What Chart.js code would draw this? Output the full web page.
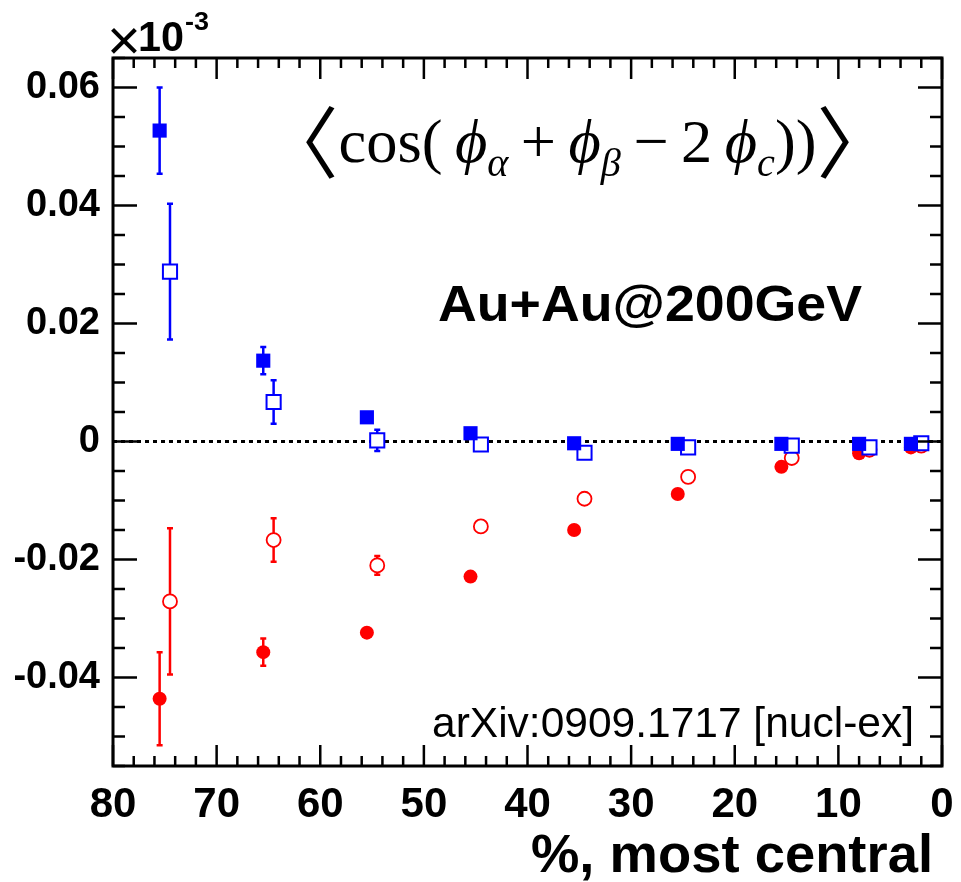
<!DOCTYPE html>
<html>
<head>
<meta charset="utf-8">
<script src="https://cdn.jsdelivr.net/npm/chart.js@4"></script>
<style>
html, body { margin: 0; padding: 0; background: #fff; }
</style>
</head>
<body>
<canvas id="chart" width="961" height="882"></canvas>
<script>
// centrality bin positions (filled markers shifted +0.5, open -0.5)
const xFilled = [75.5, 65.5, 55.5, 45.5, 35.5, 25.5, 15.5, 8, 3];
const xOpen = [74.5, 64.5, 54.5, 44.5, 34.5, 24.5, 14.5, 7, 2];

// blue squares
const blueFilled = [0.0527, 0.0137, 0.0041, 0.0014, -0.0003, -0.0004, -0.0004, -0.0004, -0.0004];
const blueFilledErr = [0.0073, 0.0023, 0.0004, 0.0003, 0.0002, 0.0001, 0.0001, 0.0001, 0.0001];
const blueOpen = [0.0288, 0.0067, 0.0002, -0.0005, -0.0019, -0.0010, -0.0007, -0.0010, -0.0003];
const blueOpenErr = [0.0115, 0.0037, 0.0018, 0.0006, 0.0004, 0.0003, 0.0002, 0.0002, 0.0001];

// red circles
const redFilled = [-0.0436, -0.0357, -0.0324, -0.0229, -0.0150, -0.0089, -0.0043, -0.0020, -0.0010];
const redFilledErr = [0.0079, 0.0023, 0.0005, 0.0004, 0.0003, 0.0002, 0.0002, 0.0001, 0.0001];
const redOpen = [-0.0271, -0.0167, -0.0210, -0.0144, -0.0097, -0.0060, -0.0028, -0.0014, -0.0007];
const redOpenErr = [0.0124, 0.0037, 0.0016, 0.0006, 0.0004, 0.0003, 0.0002, 0.0002, 0.0001];

const xTickValues = [80, 70, 60, 50, 40, 30, 20, 10, 0];
const yTickValues = [-0.04, -0.02, 0, 0.02, 0.04, 0.06];
const yTickLabels = ['-0.04', '-0.02', '0', '0.02', '0.04', '0.06'];

const SANS = "'Liberation Sans', Arial, sans-serif";
const SERIF = "'Liberation Serif', 'DejaVu Serif', serif";
const THIN = "'Noto Sans CJK JP', 'Liberation Serif', serif";

function pts(xs, ys) {
    return xs.map((x, i) => ({ x: x, y: ys[i] }));
}

function fitText(ctx, text, x, y, w, font) {
    ctx.font = font;
    const m = ctx.measureText(text).width;
    ctx.save();
    ctx.translate(x, y);
    ctx.scale(w / m, 1);
    ctx.fillText(text, 0, 0);
    ctx.restore();
}

// draws error bars under the markers
const errorBars = {
    id: 'errorBars',
    beforeDatasetsDraw(chart) {
        const ctx = chart.ctx;
        const x = chart.scales.x, y = chart.scales.y;
        chart.data.datasets.forEach(ds => {
            ctx.save();
            ctx.strokeStyle = ds.borderColor;
            ctx.lineWidth = 2.5;
            ds.data.forEach((p, i) => {
                const e = ds.errors[i];
                const px = x.getPixelForValue(p.x);
                const top = y.getPixelForValue(p.y + e);
                const bot = y.getPixelForValue(p.y - e);
                ctx.beginPath();
                ctx.moveTo(px, top);
                ctx.lineTo(px, bot);
                ctx.moveTo(px - 3, top);
                ctx.lineTo(px + 3, top);
                ctx.moveTo(px - 3, bot);
                ctx.lineTo(px + 3, bot);
                ctx.stroke();
            });
            ctx.restore();
        });
        // dotted zero line
        const y0 = y.getPixelForValue(0);
        ctx.save();
        ctx.strokeStyle = '#000';
        ctx.lineWidth = 3;
        ctx.setLineDash([4, 4]);
        ctx.beginPath();
        ctx.moveTo(chart.chartArea.left, y0);
        ctx.lineTo(chart.chartArea.right, y0);
        ctx.stroke();
        ctx.restore();
    }
};

// ROOT-style frame with inward ticks on all four sides
const frame = {
    id: 'frame',
    afterDraw(chart) {
        const ctx = chart.ctx;
        const a = chart.chartArea;
        const x = chart.scales.x, y = chart.scales.y;
        ctx.save();
        ctx.strokeStyle = '#000';
        ctx.lineWidth = 3;
        ctx.strokeRect(a.left, a.top, a.right - a.left, a.bottom - a.top);
        ctx.lineWidth = 2.5;
        ctx.beginPath();
        for (let v = 0; v <= 80; v += 2) {
            const px = x.getPixelForValue(v);
            const len = v % 10 === 0 ? 21 : 10;
            ctx.moveTo(px, a.bottom);
            ctx.lineTo(px, a.bottom - len);
            ctx.moveTo(px, a.top);
            ctx.lineTo(px, a.top + len);
        }
        for (let k = -11; k <= 13; k++) {
            const v = k * 0.005;
            const py = y.getPixelForValue(v);
            const len = k % 4 === 0 ? 24 : 12;
            ctx.moveTo(a.left, py);
            ctx.lineTo(a.left + len, py);
            ctx.moveTo(a.right, py);
            ctx.lineTo(a.right - len, py);
        }
        ctx.stroke();
        ctx.restore();

        // texts
        ctx.save();
        ctx.fillStyle = '#000';
        ctx.textAlign = 'left';
        ctx.textBaseline = 'alphabetic';
        ctx.font = '58px ' + SANS;
        ctx.fillText('\u00d7', 107, 60);
        fitText(ctx, '10', 138, 51, 46, 'bold 42px ' + SANS);
        fitText(ctx, '-3', 185, 30, 24, 'bold 26px ' + SANS);

        fitText(ctx, 'Au+Au@200GeV', 438, 321, 424, 'bold 50px ' + SANS);
        fitText(ctx, 'arXiv:0909.1717 [nucl-ex]', 432, 737, 482, '42px ' + SANS);
        fitText(ctx, '%, most central', 531, 872, 402, 'bold 54px ' + SANS);

        // formula
        const big = '62px ' + SERIF, it = 'italic 62px ' + SERIF, sub = 'italic 40px ' + SERIF;
        const brk = '78px ' + THIN;
        const sp = '\u2009';
        const runs = [
            ['\u3008', brk, 10], ['cos', big, 0], ['(', big, 0], [sp, big, 0],
            ['\u03d5', it, 0], ['\u03b1', sub, 14], [sp + '+' + sp, big, 0],
            ['\u03d5', it, 0], ['\u03b2', sub, 14], [sp + '\u2212' + sp, big, 0], ['2', big, 0], [sp, big, 0],
            ['\u03d5', it, 0], ['c', sub, 14], [')', big, 0], [')', big, 0], ['\u3009', brk, 10]
        ];
        let total = 0;
        runs.forEach(r => { ctx.font = r[1]; total += ctx.measureText(r[0]).width; });
        const sx = 635 / total;
        ctx.translate(260, 162);
        ctx.scale(sx, 1);
        let cx = 0;
        runs.forEach(r => {
            ctx.font = r[1];
            ctx.fillText(r[0], cx, r[2]);
            cx += ctx.measureText(r[0]).width;
        });
        ctx.restore();
    }
};

new Chart(document.getElementById('chart').getContext('2d'), {
    type: 'scatter',
    data: {
        datasets: [
            {
                label: 'blue filled', data: pts(xFilled, blueFilled), errors: blueFilledErr,
                pointStyle: 'rect', pointRadius: 10, borderColor: '#0000ff',
                backgroundColor: '#0000ff', pointBorderWidth: 0
            },
            {
                label: 'blue open', data: pts(xOpen, blueOpen), errors: blueOpenErr,
                pointStyle: 'rect', pointRadius: 10, borderColor: '#0000ff',
                backgroundColor: '#ffffff', pointBorderWidth: 2
            },
            {
                label: 'red filled', data: pts(xFilled, redFilled), errors: redFilledErr,
                pointStyle: 'circle', pointRadius: 7, borderColor: '#ff0000',
                backgroundColor: '#ff0000', pointBorderWidth: 0
            },
            {
                label: 'red open', data: pts(xOpen, redOpen), errors: redOpenErr,
                pointStyle: 'circle', pointRadius: 7, borderColor: '#ff0000',
                backgroundColor: '#ffffff', pointBorderWidth: 1.8
            }
        ]
    },
    options: {
        responsive: false,
        animation: false,
        layout: { padding: { left: 0, top: 58, right: 19, bottom: 0 } },
        plugins: { legend: { display: false }, tooltip: { enabled: false } },
        scales: {
            x: {
                type: 'linear', reverse: true, min: 0, max: 80,
                grid: { display: false, drawTicks: false },
                border: { display: false },
                afterBuildTicks: s => { s.ticks = xTickValues.map(v => ({ value: v })); },
                afterFit: s => { s.height = 116; s.paddingLeft = 0; s.paddingRight = 0; },
                ticks: {
                    autoSkip: false, maxRotation: 0, padding: 14, color: '#000',
                    font: { family: SANS, size: 42, weight: 'bold' },
                    callback: v => String(v)
                }
            },
            y: {
                type: 'linear', min: -0.055, max: 0.065,
                grid: { display: false, drawTicks: false },
                border: { display: false },
                afterBuildTicks: s => { s.ticks = yTickValues.map(v => ({ value: v })); },
                afterFit: s => { s.width = 113; s.paddingTop = 0; s.paddingBottom = 0; },
                ticks: {
                    autoSkip: false, padding: 13, color: '#000',
                    font: { family: SANS, size: 38, weight: 'bold' },
                    callback: (v, i) => yTickLabels[i]
                }
            }
        }
    },
    plugins: [errorBars, frame]
});
</script>
</body>
</html>
